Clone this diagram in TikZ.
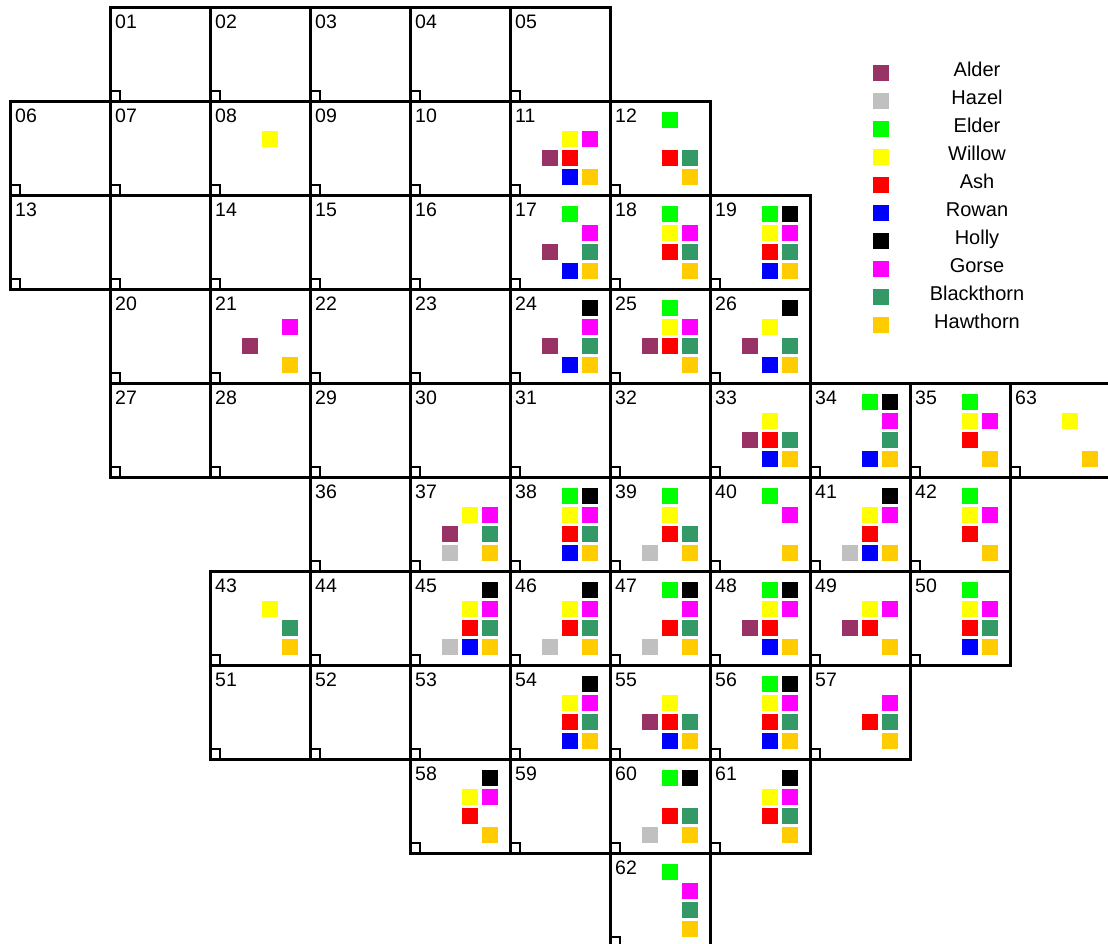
\documentclass[tikz,border=0pt]{standalone}
\usepackage{fontspec}
\setmainfont{Liberation Sans}

\definecolor{alder}{RGB}{153,51,102}
\definecolor{hazel}{RGB}{192,192,192}
\definecolor{elder}{RGB}{0,255,0}
\definecolor{willow}{RGB}{255,255,0}
\definecolor{ash}{RGB}{255,0,0}
\definecolor{rowan}{RGB}{0,0,255}
\definecolor{holly}{RGB}{0,0,0}
\definecolor{gorse}{RGB}{255,0,255}
\definecolor{blackthorn}{RGB}{51,153,102}
\definecolor{hawthorn}{RGB}{255,204,0}

\tikzset{
  cellbox/.style={line width=3pt},
  celltick/.style={line width=2pt},
  celllabel/.style={font=\fontsize{19.5}{19.5}\selectfont, inner sep=0pt, anchor=north west},
  treesq/.style={minimum size=16pt, inner sep=0pt, outer sep=0pt},
  keytext/.style={font=\fontsize{20}{20}\selectfont, inner sep=0pt, anchor=base},
}

\begin{document}
\begin{tikzpicture}[x=1pt,y=-1pt]
   \useasboundingbox (0,0) rectangle (1108,943);
   \clip (0,0) rectangle (1108,943);
   % squares of the survey
   \foreach \lab/\col/\row in {01/1/0,02/2/0,03/3/0,04/4/0,05/5/0,
       06/0/1,07/1/1,08/2/1,09/3/1,10/4/1,11/5/1,12/6/1,
       13/0/2,14/2/2,15/3/2,16/4/2,17/5/2,18/6/2,19/7/2,
       20/1/3,21/2/3,22/3/3,23/4/3,24/5/3,25/6/3,26/7/3,
       27/1/4,28/2/4,29/3/4,30/4/4,31/5/4,32/6/4,33/7/4,34/8/4,35/9/4,63/10/4,
       36/3/5,37/4/5,38/5/5,39/6/5,40/7/5,41/8/5,42/9/5,
       43/2/6,44/3/6,45/4/6,46/5/6,47/6/6,48/7/6,49/8/6,50/9/6,
       51/2/7,52/3/7,53/4/7,54/5/7,55/6/7,56/7/7,57/8/7,
       58/4/8,59/5/8,60/6/8,61/7/8,
       62/6/9}{
     \coordinate (c\lab) at (10+100*\col,7+94*\row);
     \draw[cellbox] (c\lab) rectangle +(100,94);
     \draw[celltick] (c\lab) ++(0,84) -| ++(10,10);
     \node[celllabel] (l\lab) at ([shift={(5,7.5)}]c\lab) {\lab};
   }
   % the unnumbered one
   \coordinate (cblank) at (110,195);
   \draw[cellbox] (cblank) rectangle +(100,94);
   \draw[celltick] (cblank) ++(0,84) -| ++(10,10);

   % trees found in each square
   \foreach \tr/\dx/\dy/\where in {
       elder/60/19/{12,17,18,19,25,34,35,38,39,40,42,47,48,50,56,60,62},
       holly/80/19/{19,24,26,34,38,41,45,46,47,48,54,56,58,60,61},
       willow/60/38/{08,11,18,19,25,26,33,35,63,37,38,39,41,42,43,45,46,48,49,50,54,55,56,58,61},
       gorse/80/38/{11,17,18,19,21,24,25,34,35,37,38,40,41,42,45,46,47,48,49,50,54,56,57,58,61,62},
       alder/40/57/{11,17,21,24,25,26,33,37,48,49,55},
       ash/60/57/{11,12,18,19,25,33,35,38,39,41,42,45,46,47,48,49,50,54,55,56,57,58,60,61},
       blackthorn/80/57/{12,17,18,19,24,25,26,33,34,37,38,39,43,45,46,47,50,54,55,56,57,60,61,62},
       hazel/40/75.5/{37,39,41,45,46,47,60},
       rowan/60/75.5/{11,17,19,24,26,33,34,38,41,45,48,50,54,55,56},
       hawthorn/80/75.5/{11,12,17,18,19,21,24,25,26,33,34,35,63,37,38,39,40,41,42,43,45,46,47,48,49,50,54,55,56,57,58,60,61,62}}{
     \foreach \c in \where
       \node[treesq, fill=\tr] (\tr\c) at ([shift={(\dx,\dy)}]c\c) {};
   }

   % key
   \foreach \tr/\name [count=\i from 0] in {alder/Alder,hazel/Hazel,elder/Elder,willow/Willow,ash/Ash,
       rowan/Rowan,holly/Holly,gorse/Gorse,blackthorn/Blackthorn,hawthorn/Hawthorn}{
     \node[treesq, fill=\tr] (key\tr) at (880.5,73+28*\i) {};
     \node[keytext] (txt\tr) at (977,76+28*\i) {\name};
   }
\end{tikzpicture}
\end{document}
